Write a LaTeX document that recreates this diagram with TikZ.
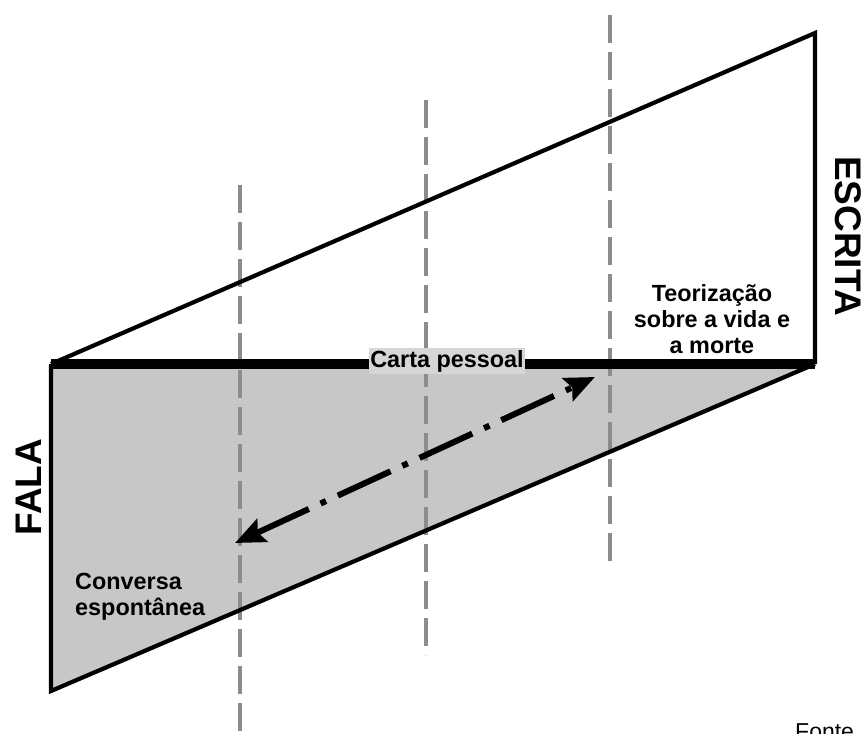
\documentclass[tikz,border=0pt]{standalone}
\usepackage{fontspec}
\setmainfont{Liberation Sans}
\usetikzlibrary{arrows.meta}
\begin{document}
\begin{tikzpicture}[x=1pt,y=-1pt,
  outline/.style={line width=4.2pt, line join=miter},
  guide/.style={draw=black!45, line width=3.5pt, dash pattern=on 28pt off 9pt},
  lbl/.style={font=\fontsize{23.4}{26}\selectfont\bfseries, inner sep=0pt},
  big/.style={font=\fontsize{37}{42}\selectfont\bfseries, inner sep=0pt},
  bigtip/.tip={Stealth[length=30pt,width=25pt,inset=5pt]}]
\clip (0,0) rectangle (864,733);
\coordinate (TL) at (51,364);
\coordinate (TR) at (815,364);
\coordinate (UR) at (815,33);
\coordinate (BL) at (51,691);
\fill[black!22] (TL) -- (TR) -- (BL) -- cycle;
% guide lines
\coordinate (g1a) at (240,185); \coordinate (g1b) at (240,740);
\coordinate (g2a) at (426,100); \coordinate (g2b) at (426,655);
\coordinate (g3a) at (610,15);  \coordinate (g3b) at (610,568);
\draw[guide] (g1a) -- (g1b);
\draw[guide] (g2a) -- (g2b);
\draw[guide] (g3a) -- (g3b);
% outlines
\draw[outline] (TL) -- (UR) -- (TR);
\draw[outline] (TR) -- (BL) -- (TL);
\draw[line width=9.5pt] (TL) -- (TR);
% arrow
\coordinate (A1) at (235,543);
\coordinate (A2) at (595,377);
\draw[line width=6pt, dash pattern=on 58pt off 13pt on 6pt off 13pt, bigtip-bigtip] (A1) -- (A2);
% labels
\node[lbl, fill=black!16, inner xsep=1pt, inner ysep=2pt] (carta) at (447,361) {Carta pessoal};
\node[big, rotate=90] (fala) at (29,487) {FALA};
\node[big, rotate=-90] (escrita) at (848,236) {ESCRITA};
\node[lbl, align=left, anchor=west] (conv) at (75,597) {Conversa\\espontânea};
\node[lbl, align=center] (teor) at (712,319) {Teorização\\sobre a vida e\\a morte};
\node[anchor=base west, inner sep=0pt, font=\fontsize{23}{26}\selectfont] (fonte) at (795,739) {Fonte};
\end{tikzpicture}
\end{document}
